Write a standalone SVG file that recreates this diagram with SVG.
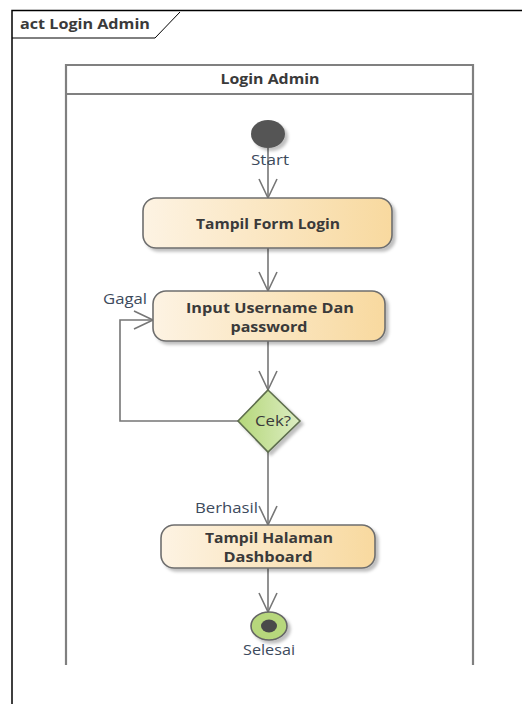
<svg xmlns="http://www.w3.org/2000/svg" width="522" height="704" viewBox="0 0 522 704">
<style>
.t{font-family:"Open Sans","Noto Sans",sans-serif;fill:#3a3a3a}
.b{font-weight:bold;font-size:14px;text-anchor:middle}
.l{font-size:14px;fill:#3d4a5c}
.c{fill:none;stroke:#767676;stroke-width:1.6}
.act{fill:url(#og);stroke:#6e6e6e;stroke-width:1.6}
</style>
<defs>
<linearGradient id="og" x1="0" x2="1" y1="0" y2="0"><stop offset="0" stop-color="#fdf3e3"/><stop offset="1" stop-color="#f8d99f"/></linearGradient>
<linearGradient id="gg" x1="0" x2="1" y1="0" y2="0"><stop offset="0" stop-color="#b5d77a"/><stop offset="1" stop-color="#dcedc2"/></linearGradient>
<filter id="sh" x="-20%" y="-20%" width="150%" height="150%"><feDropShadow dx="3" dy="3" stdDeviation="1.5" flood-color="#000" flood-opacity="0.25"/></filter>
<marker id="ah" markerWidth="24" markerHeight="24" viewBox="0 0 24 24" refX="20" refY="12" orient="auto" markerUnits="userSpaceOnUse"><path d="M1,3 L20,12 L1,21" fill="none" stroke="#767676" stroke-width="1.6"/></marker>
</defs>
<g id="frame">
<path d="M12,704 V10.5 H522" fill="none" stroke="#000" stroke-width="1.5"/>
<path d="M12,38 H155 L180,12" fill="none" stroke="#000" stroke-width="1"/>
<text class="t" x="20" y="29" font-size="14" font-weight="bold" fill="#111" textLength="130" lengthAdjust="spacingAndGlyphs">act Login Admin</text>
</g>
<g id="partition">
<path d="M66,665 V65 H473 V665 M66,94 H473" fill="none" stroke="#808080" stroke-width="2.2"/>
<text class="t b" x="270" y="84" textLength="99" lengthAdjust="spacingAndGlyphs">Login Admin</text>
</g>
<g id="connectors">
<line class="c" x1="268" y1="148" x2="268" y2="198" marker-end="url(#ah)"/>
<line class="c" x1="268" y1="248" x2="268" y2="291" marker-end="url(#ah)"/>
<line class="c" x1="268" y1="341" x2="268" y2="390" marker-end="url(#ah)"/>
<polyline class="c" points="238,421 120,421 120,320 153,320" marker-end="url(#ah)"/>
<line class="c" x1="268" y1="452" x2="268" y2="525" marker-end="url(#ah)"/>
<line class="c" x1="268" y1="568" x2="268" y2="612" marker-end="url(#ah)"/>
<text class="t l" x="103" y="304" textLength="44" lengthAdjust="spacingAndGlyphs">Gagal</text>
<text class="t l" x="195" y="513" textLength="63" lengthAdjust="spacingAndGlyphs">Berhasil</text>
</g>
<g id="start">
<ellipse cx="268" cy="134" rx="17" ry="14" fill="#555" filter="url(#sh)"/>
<text class="t l" x="270" y="165" text-anchor="middle" textLength="38" lengthAdjust="spacingAndGlyphs">Start</text>
</g>
<g id="tampilForm">
<rect class="act" x="143" y="198" width="249" height="50" rx="13" filter="url(#sh)"/>
<text class="t b" x="268" y="229" textLength="144" lengthAdjust="spacingAndGlyphs">Tampil Form Login</text>
</g>
<g id="inputUser">
<rect class="act" x="153" y="291" width="232" height="50" rx="13" filter="url(#sh)"/>
<text class="t b" x="270" y="313" textLength="168" lengthAdjust="spacingAndGlyphs">Input Username Dan</text>
<text class="t b" x="269" y="332" textLength="77" lengthAdjust="spacingAndGlyphs">password</text>
</g>
<g id="cek">
<polygon points="268,390 300,421 268,452 238,421" fill="url(#gg)" stroke="#5e6e4e" stroke-width="1.6" filter="url(#sh)"/>
<text class="t" x="273" y="426" font-size="14" text-anchor="middle" textLength="36" lengthAdjust="spacingAndGlyphs">Cek?</text>
</g>
<g id="dashboard">
<rect class="act" x="161" y="525" width="214" height="43" rx="13" filter="url(#sh)"/>
<text class="t b" x="269" y="543" textLength="128" lengthAdjust="spacingAndGlyphs">Tampil Halaman</text>
<text class="t b" x="268" y="562" textLength="89" lengthAdjust="spacingAndGlyphs">Dashboard</text>
</g>
<g id="end">
<ellipse cx="269" cy="626" rx="18" ry="14" fill="#b7d77c" stroke="#666" stroke-width="1.6" filter="url(#sh)"/>
<ellipse cx="269" cy="626" rx="8" ry="6.5" fill="#4a4a4a"/>
<text class="t l" x="269" y="655" text-anchor="middle" textLength="52" lengthAdjust="spacingAndGlyphs">Selesai</text>
</g>
</svg>
